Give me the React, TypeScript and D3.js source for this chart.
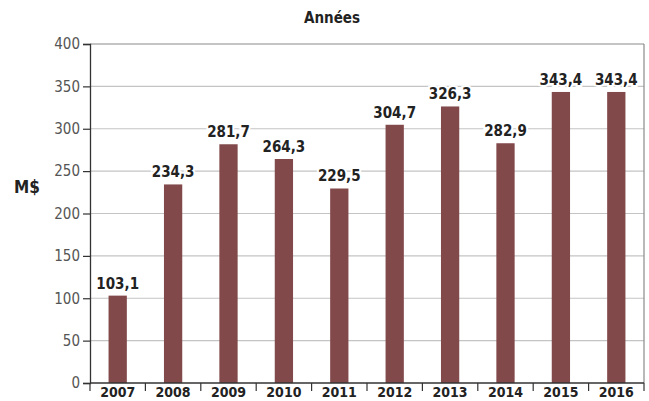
import React, { useEffect, useRef } from "react";
import * as d3 from "d3";

const years = ["2007", "2008", "2009", "2010", "2011", "2012", "2013", "2014", "2015", "2016"];
const values = [103.1, 234.3, 281.7, 264.3, 229.5, 304.7, 326.3, 282.9, 343.4, 343.4];
const yTicks = [0, 50, 100, 150, 200, 250, 300, 350, 400];

const W = 649;
const H = 401;
const font = "'Liberation Sans Narrow', 'DejaVu Sans Condensed', sans-serif";

const App = () => {
  const svgRef = useRef<SVGSVGElement>(null);

  useEffect(() => {
    const svg = d3.select(svgRef.current);
    svg.selectAll("*").remove();

    const left = 90;
    const right = 644;
    const top = 44;
    const bottom = 383;

    const x = d3.scaleBand().domain(years).range([left, right]).padding(0);
    const y = d3.scaleLinear().domain([0, 400]).range([bottom, top]);
    const barW = x.bandwidth() * 0.33;

    // grille horizontale
    svg
      .append("g")
      .selectAll("line")
      .data(yTicks.filter((t) => t > 0))
      .join("line")
      .attr("x1", left)
      .attr("x2", right)
      .attr("y1", (d) => y(d))
      .attr("y2", (d) => y(d))
      .attr("stroke", (d) => (d === 400 ? "#8a8a8a" : "#c4c4c4"))
      .attr("stroke-width", 1.2);

    // bordure droite
    svg
      .append("line")
      .attr("x1", right)
      .attr("x2", right)
      .attr("y1", top)
      .attr("y2", bottom)
      .attr("stroke", "#8a8a8a")
      .attr("stroke-width", 1.2);

    // barres
    svg
      .append("g")
      .selectAll("rect")
      .data(values)
      .join("rect")
      .attr("x", (d, i) => x(years[i])! + (x.bandwidth() - barW) / 2)
      .attr("width", barW)
      .attr("y", (d) => y(d))
      .attr("height", (d) => bottom - y(d))
      .attr("fill", "#82494b");

    // étiquettes de valeurs
    svg
      .append("g")
      .selectAll("text")
      .data(values)
      .join("text")
      .attr("x", (d, i) => x(years[i])! + x.bandwidth() / 2)
      .attr("y", (d) => y(d) - 7)
      .attr("text-anchor", "middle")
      .attr("font-family", font)
      .attr("font-weight", "bold")
      .attr("font-size", 15)
      .attr("fill", "#222")
      .attr("stroke", "#fff")
      .attr("stroke-width", 4)
      .attr("paint-order", "stroke")
      .text((d) => d.toFixed(1).replace(".", ","));

    // axe Y
    const yAxis = svg
      .append("g")
      .attr("transform", `translate(${left},0)`)
      .call(d3.axisLeft(y).tickValues(yTicks).tickSize(7).tickPadding(3));
    yAxis.select(".domain").attr("stroke", "#333").attr("stroke-width", 1.3);
    yAxis.selectAll(".tick line").attr("stroke", "#333").attr("stroke-width", 1.2);
    yAxis
      .selectAll(".tick text")
      .attr("font-family", font)
      .attr("font-size", 15)
      .attr("fill", "#555");

    // axe X
    svg
      .append("line")
      .attr("x1", left)
      .attr("x2", right)
      .attr("y1", bottom)
      .attr("y2", bottom)
      .attr("stroke", "#333")
      .attr("stroke-width", 1.3);
    const bounds = years.map((yr) => x(yr)!).concat([right]);
    svg
      .append("g")
      .selectAll("line")
      .data(bounds)
      .join("line")
      .attr("x1", (d) => d)
      .attr("x2", (d) => d)
      .attr("y1", bottom)
      .attr("y2", bottom + 8)
      .attr("stroke", "#333")
      .attr("stroke-width", 1.2);
    svg
      .append("g")
      .selectAll("text")
      .data(years)
      .join("text")
      .attr("x", (d) => x(d)! + x.bandwidth() / 2)
      .attr("y", 397)
      .attr("text-anchor", "middle")
      .attr("font-family", font)
      .attr("font-weight", "bold")
      .attr("font-size", 14)
      .attr("fill", "#222")
      .text((d) => d);

    // titres
    svg
      .append("text")
      .attr("x", 332)
      .attr("y", 23)
      .attr("text-anchor", "middle")
      .attr("font-family", font)
      .attr("font-weight", "bold")
      .attr("font-size", 15)
      .attr("fill", "#222")
      .text("Années");
    svg
      .append("text")
      .attr("x", 14)
      .attr("y", 193)
      .attr("font-family", font)
      .attr("font-weight", "bold")
      .attr("font-size", 17)
      .attr("fill", "#222")
      .text("M$");
  }, []);

  return (
    <svg
      ref={svgRef}
      width={W}
      height={H}
      style={{ position: "absolute", left: 0, top: 0, background: "#fff" }}
    />
  );
};

export default App;
